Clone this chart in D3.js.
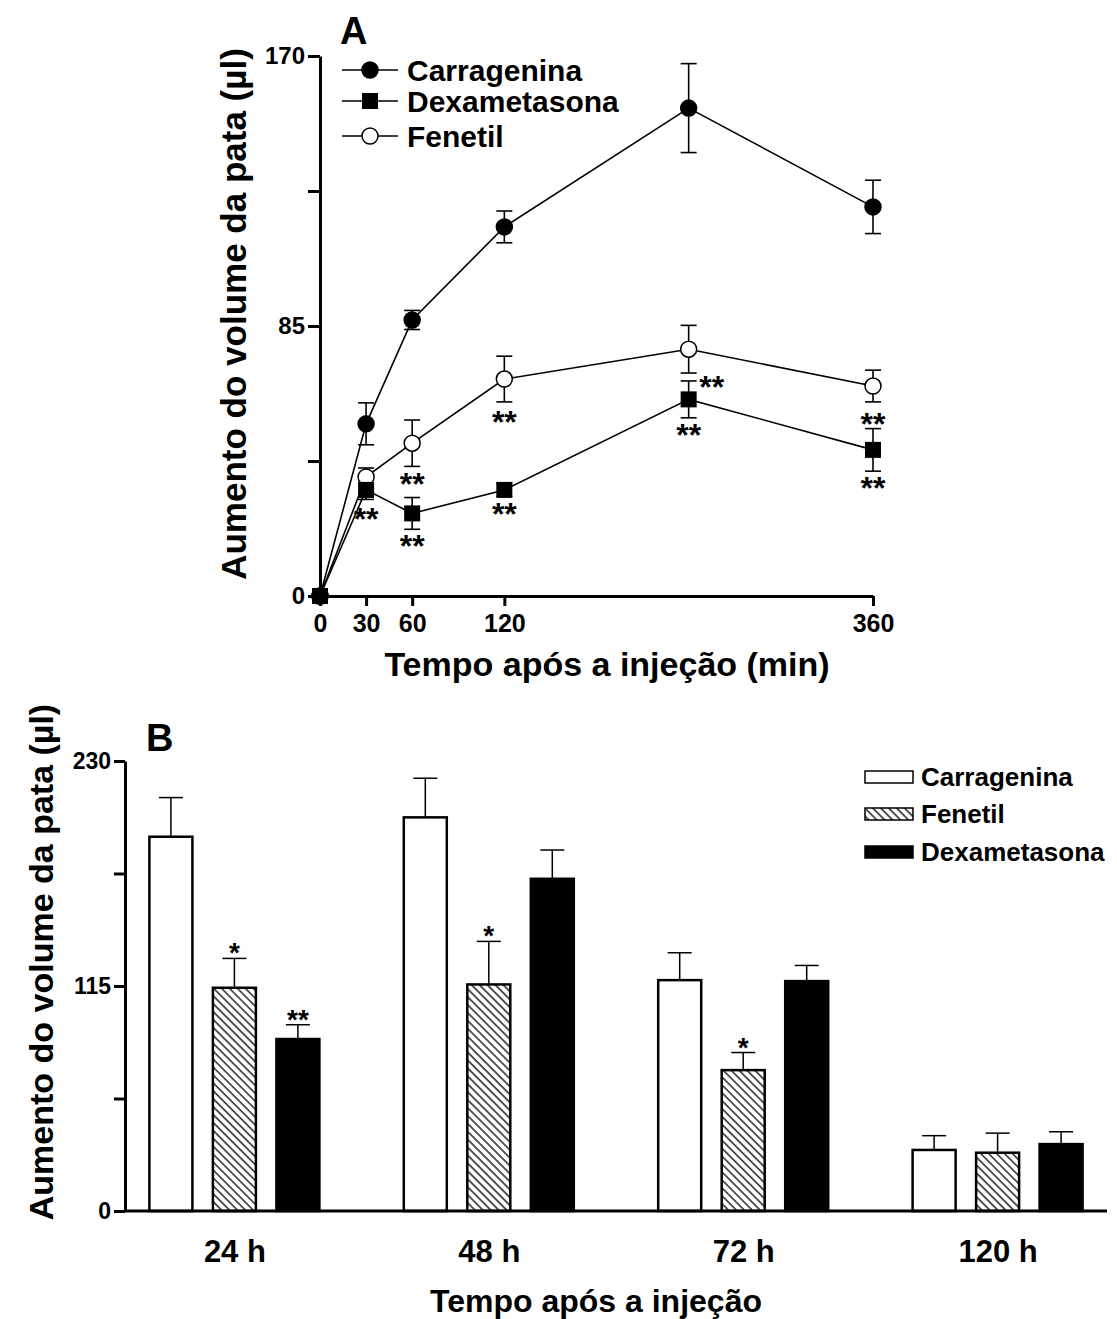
<!DOCTYPE html>
<html>
<head>
<meta charset="utf-8">
<script src="https://cdn.jsdelivr.net/npm/d3@7"></script>
<style>
  body { margin: 0; background: #fff; }
  svg text { font-family: "Liberation Sans", Arial, sans-serif; font-weight: bold; fill: #000; }
</style>
</head>
<body>
<svg id="chart" width="1117" height="1319"></svg>
<script>
// ---- panel A data (time course) ----
let minutes = [0, 30, 60, 120, 240, 360];
let carrA = [0, 54.2, 86.9, 116.2, 153.6, 122.5];
let carrAErr = [0, 6.6, 3, 5, 14, 8.4];
let fenA = [0, 37.5, 48.1, 68.3, 77.7, 66.1];
let fenAErr = [0, 2.8, 7.3, 7.2, 7.5, 5];
let dexA = [0, 33.4, 26.0, 33.4, 61.9, 46.0];
let dexAErr = [0, 3, 5, 2, 5.8, 6.7];
let xTicksA = [0, 30, 60, 120, 360];
let yTicksA = [0, 42.5, 85, 127.5, 170];
let yLabelsA = [0, 85, 170];
// significance marks: [minute, value, label]
let starsA = [
  [30, 25.5, "**"], [60, 36.5, "**"], [60, 17, "**"],
  [120, 56, "**"], [120, 27, "**"], [255, 67, "**"],
  [240, 52, "**"], [360, 55.4, "**"], [360, 35.3, "**"]
];

// ---- panel B data (bars) ----
let groups = ["24 h", "48 h", "72 h", "120 h"];
let seriesB = ["Carragenina", "Fenetil", "Dexametasona"];
let carrB = [191.3, 201.2, 118, 31.2];
let carrBErr = [20, 20, 14, 7.3];
let fenB = [114.1, 115.8, 72, 29.8];
let fenBErr = [15, 22, 9, 10];
let dexB = [87.9, 169.8, 117.5, 34.2];
let dexBErr = [7.3, 14.7, 8, 6.3];
let fenBStars = ["*", "*", "*", ""];
let dexBStars = ["**", "", "", ""];
let yTicksB = [0, 57.5, 115, 172.5, 230];
let yLabelsB = [0, 115, 230];

let svg = d3.select("#chart");

// hatch pattern (lines running top-left to bottom-right)
let defs = svg.append("defs");
let pat = defs.append("pattern")
  .attr("id", "hatch")
  .attr("patternUnits", "userSpaceOnUse")
  .attr("width", 5.6).attr("height", 5.6)
  .attr("patternTransform", "rotate(-45)");
pat.append("rect").attr("width", 5.6).attr("height", 5.6).attr("fill", "#fff");
pat.append("line").attr("x1", 1).attr("y1", 0).attr("x2", 1).attr("y2", 5.6)
  .attr("stroke", "#000").attr("stroke-width", 1.3);

let styleAxis = (g, size) => {
  g.select(".domain").attr("stroke", "#000").attr("stroke-width", 3);
  g.selectAll(".tick line").attr("stroke", "#000").attr("stroke-width", 3);
  g.selectAll(".tick text").style("font-size", size + "px").style("font-weight", "bold");
}

// ================= PANEL A =================
let xA = d3.scaleLinear().domain([0, 360]).range([320, 873]);
let yA = d3.scaleLinear().domain([0, 170]).range([596, 56]);

let gA = svg.append("g");

gA.append("g")
  .attr("transform", `translate(0,${yA(0)})`)
  .call(d3.axisBottom(xA).tickValues(xTicksA).tickSize(10).tickSizeOuter(0).tickPadding(8))
  .call(g => styleAxis(g, 25));

gA.append("g")
  .attr("transform", `translate(${xA(0)},0)`)
  .call(d3.axisLeft(yA).tickValues(yTicksA).tickSize(12).tickSizeOuter(0).tickPadding(3)
    .tickFormat(d => yLabelsA.includes(d) ? d : ""))
  .call(g => styleAxis(g, 24));

let seriesA = [
  { name: "Carragenina", vals: carrA, err: carrAErr, shape: "circle", fill: "#000" },
  { name: "Fenetil", vals: fenA, err: fenAErr, shape: "circle", fill: "#fff" },
  { name: "Dexametasona", vals: dexA, err: dexAErr, shape: "square", fill: "#000" }
];

let line = d3.line().x(d => xA(d[0])).y(d => yA(d[1]));

seriesA.forEach(s => {
  let pts = minutes.map((m, i) => [m, s.vals[i], s.err[i]]);
  gA.append("path").datum(pts).attr("d", line)
    .attr("fill", "none").attr("stroke", "#000").attr("stroke-width", 1.6);
  let eb = gA.append("g");
  pts.filter(p => p[2] > 0).forEach(p => {
    let x = xA(p[0]);
    eb.append("line").attr("x1", x).attr("x2", x)
      .attr("y1", yA(p[1] - p[2])).attr("y2", yA(p[1] + p[2]));
    [p[1] - p[2], p[1] + p[2]].forEach(v => {
      eb.append("line").attr("x1", x - 8).attr("x2", x + 8)
        .attr("y1", yA(v)).attr("y2", yA(v));
    });
  });
  eb.selectAll("line").attr("stroke", "#000").attr("stroke-width", 1.6);
});

let drawMarker = (g, shape, fill, x, y) => {
  if (shape === "circle") {
    g.append("circle").attr("cx", x).attr("cy", y).attr("r", 8)
      .attr("fill", fill).attr("stroke", "#000").attr("stroke-width", 1.5);
  } else {
    g.append("rect").attr("x", x - 8).attr("y", y - 8).attr("width", 16).attr("height", 16)
      .attr("fill", fill);
  }
}

seriesA.forEach(s => {
  minutes.forEach((m, i) => drawMarker(gA, s.shape, s.fill, xA(m), yA(s.vals[i])));
});

gA.selectAll(".starA")
  .data(starsA)
  .enter()
  .append("text")
  .attr("x", d => xA(d[0]))
  .attr("y", d => yA(d[1]) + 15)
  .attr("text-anchor", "middle")
  .style("font-size", "32px")
  .text(d => d[2]);

// legend A (order as in the original: Carragenina, Dexametasona, Fenetil)
let legOrder = [seriesA[0], seriesA[2], seriesA[1]];
let legA = gA.append("g");
legOrder.forEach((s, i) => {
  let y = [70, 101, 136][i];
  legA.append("line").attr("x1", 342).attr("x2", 398).attr("y1", y).attr("y2", y)
    .attr("stroke", "#000").attr("stroke-width", 1.6);
  drawMarker(legA, s.shape, s.fill, 370, y);
  legA.append("text").attr("x", 407).attr("y", y + 11).style("font-size", "30px").text(s.name);
});

gA.append("text").attr("x", 340).attr("y", 44).style("font-size", "38px").text("A");

gA.append("text")
  .attr("x", 607).attr("y", 676)
  .attr("text-anchor", "middle").style("font-size", "34px")
  .text("Tempo após a injeção (min)");

gA.append("text")
  .attr("transform", `translate(246,314) rotate(-90)`)
  .attr("text-anchor", "middle").style("font-size", "35px")
  .text("Aumento do volume da pata (µl)");

// ================= PANEL B =================
let xB = d3.scalePoint().domain(groups).range([125, 1107]).padding(0.43);
let offB = d3.scalePoint().domain(seriesB).range([-63.5, 63.5]);
let barW = 43;
let yB = d3.scaleLinear().domain([0, 230]).range([1211, 761]);

let gB = svg.append("g");

let barSeries = [
  { name: "Carragenina", vals: carrB, err: carrBErr, fill: "#fff", stars: ["", "", "", ""] },
  { name: "Fenetil", vals: fenB, err: fenBErr, fill: "url(#hatch)", stars: fenBStars },
  { name: "Dexametasona", vals: dexB, err: dexBErr, fill: "#000", stars: dexBStars }
];

barSeries.forEach(s => {
  groups.forEach((g, i) => {
    let cx = xB(g) + offB(s.name);
    let top = yB(s.vals[i] + s.err[i]);
    gB.append("line").attr("x1", cx).attr("x2", cx)
      .attr("y1", yB(s.vals[i])).attr("y2", top)
      .attr("stroke", "#000").attr("stroke-width", 1.5);
    gB.append("line").attr("x1", cx - 12).attr("x2", cx + 12)
      .attr("y1", top).attr("y2", top)
      .attr("stroke", "#000").attr("stroke-width", 1.5);
    gB.append("rect")
      .attr("x", cx - barW / 2).attr("width", barW)
      .attr("y", yB(s.vals[i])).attr("height", yB(0) - yB(s.vals[i]))
      .attr("fill", s.fill).attr("stroke", "#000").attr("stroke-width", 2.5);
    if (s.stars[i]) {
      gB.append("text").attr("x", cx).attr("y", top + 4)
        .attr("text-anchor", "middle").style("font-size", "28px")
        .text(s.stars[i]);
    }
  });
});

gB.append("g")
  .attr("transform", `translate(0,${yB(0)})`)
  .call(d3.axisBottom(xB).tickSize(0).tickSizeOuter(0).tickPadding(29))
  .call(g => styleAxis(g, 31))
  .call(g => g.select(".domain").attr("d", "M125,0H1107"));

gB.append("g")
  .attr("transform", `translate(125,0)`)
  .call(d3.axisLeft(yB).tickValues(yTicksB).tickSize(11).tickSizeOuter(0).tickPadding(3)
    .tickFormat(d => yLabelsB.includes(d) ? d : ""))
  .call(g => styleAxis(g, 23));

// legend B
let legB = gB.append("g");
barSeries.forEach((s, i) => {
  let y = [777, 814, 852][i];
  legB.append("rect").attr("x", 865).attr("y", y - 6).attr("width", 48).attr("height", 12)
    .attr("fill", s.fill).attr("stroke", "#000").attr("stroke-width", 1.5);
  legB.append("text").attr("x", 921).attr("y", y + 9).style("font-size", "26px").text(s.name);
});

gB.append("text").attr("x", 146).attr("y", 751).style("font-size", "38px").text("B");

gB.append("text")
  .attr("x", 596).attr("y", 1312)
  .attr("text-anchor", "middle").style("font-size", "32px")
  .text("Tempo após a injeção");

gB.append("text")
  .attr("transform", `translate(53,962) rotate(-90)`)
  .attr("text-anchor", "middle").style("font-size", "34px")
  .text("Aumento do volume da pata (µl)");
</script>
</body>
</html>
